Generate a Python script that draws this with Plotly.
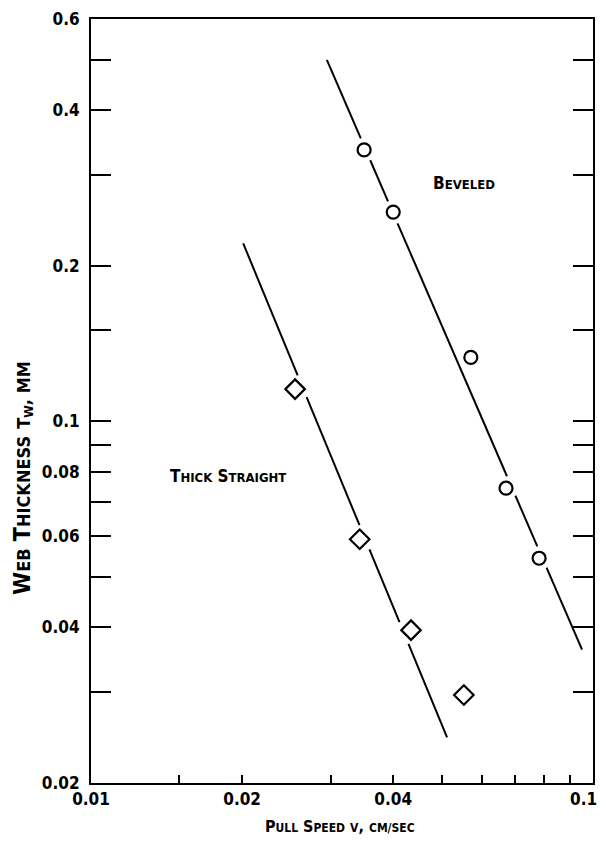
import math
import plotly.graph_objects as go

# ---- data ----
beveled_speed = [0.0350, 0.0400, 0.0571, 0.0671, 0.0781]
beveled_thick = [0.335, 0.254, 0.133, 0.0743, 0.0544]
straight_speed = [0.0255, 0.0343, 0.0434, 0.0553]
straight_thick = [0.1155, 0.0592, 0.0395, 0.0296]
beveled_fit_speed = [0.0295, 0.0951]
beveled_fit_thick = [0.50, 0.0362]
straight_fit_speed = [0.0201, 0.0512]
straight_fit_thick = [0.221, 0.0245]

x_tickvals = [0.01, 0.015, 0.02, 0.03, 0.04, 0.05, 0.06, 0.07, 0.08, 0.09, 0.1]
x_ticktext = ["0.01", "", "0.02", "", "0.04", "", "", "", "", "", ""]
x_edge_label = "0.1"   # last x label, placed so it stays inside the page
y_tickvals = [0.02, 0.03, 0.04, 0.05, 0.06, 0.07, 0.08, 0.09, 0.1, 0.15, 0.2, 0.3, 0.4, 0.5, 0.6]
y_ticktext = ["0.02", "", "0.04", "", "0.06", "", "0.08", "", "0.1", "", "0.2", "", "0.4", "", "0.6"]

FONT = "DejaVu Sans Condensed"
XR = [math.log10(0.01), math.log10(0.1)]
YR = [math.log10(0.02), math.log10(0.6)]
PLOT_W, PLOT_H = 502, 764   # plot area in px (for the gaps round the symbols)


def broken_line(fx, fy, px, py, gap_px):
    """Fit line from (fx, fy) with gaps where it passes a symbol."""
    sx = PLOT_W / (XR[1] - XR[0])
    sy = PLOT_H / (YR[1] - YR[0])
    x0, x1 = (math.log10(v) * sx for v in fx)
    y0, y1 = (math.log10(v) * sy for v in fy)
    dx, dy = x1 - x0, y1 - y0
    L = math.hypot(dx, dy)
    cuts = []
    for a, b in zip(px, py):
        ax, ay = math.log10(a) * sx, math.log10(b) * sy
        t = ((ax - x0) * dx + (ay - y0) * dy) / (L * L)
        d = abs((ax - x0) * dy - (ay - y0) * dx) / L
        if d < gap_px:
            half = math.sqrt(gap_px ** 2 - d ** 2) / L
            cuts.append((max(0.0, t - half), min(1.0, t + half)))
    cuts.sort()
    pieces, start = [], 0.0
    for c0, c1 in cuts:
        if c0 > start:
            pieces.append((start, c0))
        start = max(start, c1)
    if start < 1.0:
        pieces.append((start, 1.0))
    xs, ys = [], []
    lx0, lx1 = math.log10(fx[0]), math.log10(fx[1])
    ly0, ly1 = math.log10(fy[0]), math.log10(fy[1])
    for p0, p1 in pieces:
        for t in (p0, p1):
            xs.append(10 ** (lx0 + t * (lx1 - lx0)))
            ys.append(10 ** (ly0 + t * (ly1 - ly0)))
        xs.append(None)
        ys.append(None)
    return xs, ys


def sc(text, big=16, small=12):
    """Small-caps style: first letter of each word large, rest smaller."""
    out = []
    for word in text.split(" "):
        if word and word[0].isupper():
            rest = f"<span style='font-size:{small}px'>{word[1:].upper()}</span>" if len(word) > 1 else ""
            out.append(word[0] + rest)
        else:
            out.append(f"<span style='font-size:{small}px'>{word.upper()}</span>")
    return " ".join(out)


fig = go.Figure()

bx, by = broken_line(beveled_fit_speed, beveled_fit_thick, beveled_speed, beveled_thick, 12)
tx, ty = broken_line(straight_fit_speed, straight_fit_thick, straight_speed, straight_thick, 14)
fig.add_trace(go.Scatter(x=bx, y=by, mode="lines", line=dict(color="black", width=2),
                         connectgaps=False, hoverinfo="skip"))
fig.add_trace(go.Scatter(x=tx, y=ty, mode="lines", line=dict(color="black", width=2),
                         connectgaps=False, hoverinfo="skip"))
# data symbols
fig.add_trace(go.Scatter(x=beveled_speed, y=beveled_thick, mode="markers",
                         marker=dict(symbol="circle-open", size=13, color="black",
                                     line=dict(width=2.2, color="black"))))
fig.add_trace(go.Scatter(x=straight_speed, y=straight_thick, mode="markers",
                         marker=dict(symbol="diamond-open", size=15, color="black",
                                     line=dict(width=2.2, color="black"))))

axis_common = dict(showgrid=False, zeroline=False, showline=True, linecolor="black",
                   linewidth=2, ticks="inside", tickcolor="black", tickwidth=2,
                   automargin=False,
                   tickfont=dict(family=FONT, size=17, color="black", weight="bold"))

fig.update_layout(
    xaxis=dict(type="log", range=XR, tickvals=x_tickvals, ticktext=x_ticktext,
               ticklen=8, mirror=True, **axis_common),
    yaxis=dict(type="log", range=YR, tickvals=y_tickvals, ticktext=y_ticktext,
               ticklen=20, mirror="ticks", ticklabelstandoff=6, **axis_common),
)

# last x tick label, kept inside the page
fig.add_annotation(x=1, y=-16 / PLOT_H, xref="paper", yref="paper", xanchor="right",
                   yanchor="middle", xshift=6, showarrow=False,
                   text="<b>" + x_edge_label + "</b>",
                   font=dict(family=FONT, size=17, color="black"))

# text labels (log axes: annotation positions are given in log10 units)
fig.add_annotation(x=math.log10(0.0553), y=math.log10(0.289), xref="x", yref="y", showarrow=False,
                   text="<b>" + sc("Beveled", 17, 13) + "</b>",
                   font=dict(family=FONT, size=17, color="black"))
fig.add_annotation(x=math.log10(0.01875), y=math.log10(0.0784), xref="x", yref="y", showarrow=False,
                   text="<b>" + sc("Thick Straight", 17, 13) + "</b>",
                   font=dict(family=FONT, size=17, color="black"))
# axis titles
fig.add_annotation(x=(340 - 91) / 502, y=-0.072, xref="paper", yref="paper",
                   showarrow=False,
                   text="<b>" + sc("Pull Speed", 16, 12) + " <span style='font-size:12px'>V</span>, "
                        + "<span style='font-size:12px'>CM/SEC</span></b>",
                   font=dict(family=FONT, size=16, color="black"))
fig.add_annotation(x=-0.168, y=(783 - 478) / 764, xref="paper", yref="paper",
                   showarrow=False, textangle=-90,
                   text="<b>W<span style='font-size:18px'>EB</span> T<span style='font-size:18px'>HICKNESS</span>"
                        " <span style='font-size:18px'>T<sub>W</sub>, MM</span></b>",
                   font=dict(family=FONT, size=23, color="black"))

fig.update_layout(width=601, height=854, margin=dict(l=91, r=8, t=19, b=71),
                  paper_bgcolor="white", plot_bgcolor="white", showlegend=False)

fig.write_html("out.html")
